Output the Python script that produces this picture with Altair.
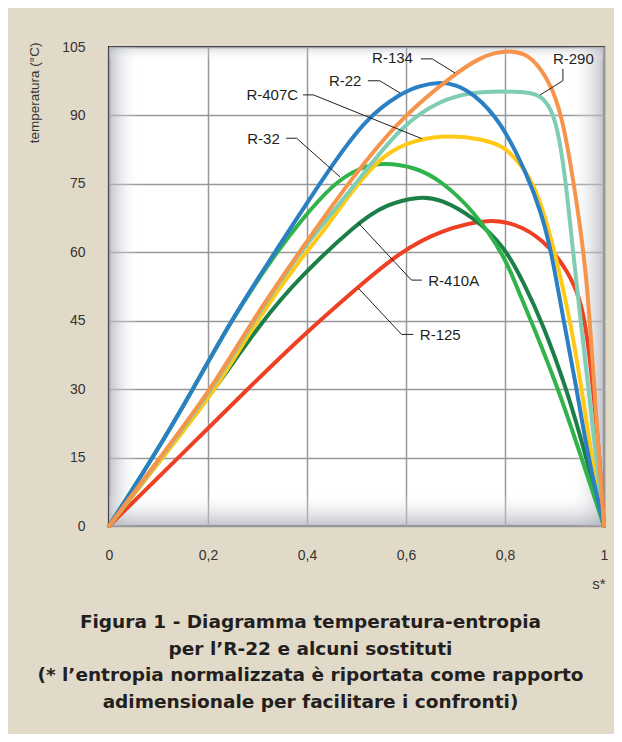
import altair as alt
import pandas as pd

# ---------------- data ----------------
R22_x = [0, 0.089, 0.17, 0.246, 0.335, 0.386, 0.453, 0.52, 0.588, 0.63, 0.669, 0.70, 0.736, 0.79, 0.844, 0.874, 0.894, 0.918, 0.945, 0.968, 1.0]
R22_y = [0, 15, 30, 45, 60, 68.5, 79.5, 89.4, 94.8, 96.6, 97.3, 96.8, 94.8, 89, 77.3, 68.5, 60, 45.2, 30, 14.8, 0]

R134_x = [0, 0.103, 0.207, 0.289, 0.384, 0.487, 0.588, 0.699, 0.749, 0.78, 0.81, 0.84, 0.867, 0.898, 0.918, 0.938, 0.952, 0.965, 0.971, 0.981, 0.99, 1.0]
R134_y = [0, 15, 30, 45, 60, 75.8, 89.4, 99.2, 102.6, 103.8, 104.2, 103.6, 101.2, 95.6, 88.3, 75.8, 65.6, 53.9, 45, 30, 15, 0]

R290_x = [0, 0.104, 0.21, 0.291, 0.386, 0.42, 0.494, 0.588, 0.669, 0.736, 0.79, 0.851, 0.874, 0.892, 0.906, 0.921, 0.935, 0.946, 0.958, 0.972, 0.986, 1.0]
R290_y = [0, 15, 30, 45, 60, 64.5, 74.4, 87.6, 93.4, 95.1, 95.3, 95.1, 94.2, 91.6, 87.3, 77.3, 62.7, 51.7, 40, 27, 13.5, 0]

R407C_x = [0, 0.108, 0.2175, 0.297, 0.396, 0.426, 0.487, 0.554, 0.621, 0.689, 0.756, 0.8, 0.83, 0.858, 0.882, 0.904, 0.932, 0.955, 0.975, 1.0]
R407C_y = [0, 15, 30, 45, 59.9, 63.5, 72.9, 81.7, 84.8, 85.7, 84.8, 83.1, 79.5, 75, 67.5, 58.5, 45, 30, 14.8, 0]

R32_x = [0, 0.089, 0.17, 0.246, 0.335, 0.386, 0.453, 0.507, 0.554, 0.621, 0.669, 0.736, 0.8, 0.823, 0.853, 0.908, 0.955, 1.0]
R32_y = [0, 15, 30, 45, 59.5, 66.7, 75.1, 78.6, 79.7, 78.6, 75.8, 69.3, 59, 52.5, 45, 30, 14.8, 0]

R410A_x = [0, 0.108, 0.214, 0.308, 0.386, 0.5, 0.56, 0.63, 0.669, 0.736, 0.8, 0.838, 0.874, 0.925, 0.965, 1.0]
R410A_y = [0, 15, 30, 44.8, 54.6, 66.3, 70.6, 72.3, 71.7, 67.8, 61.2, 53.2, 45, 30, 14.8, 0]

R125_x = [0, 0.14, 0.28, 0.386, 0.5, 0.588, 0.669, 0.77, 0.838, 0.891, 0.925, 0.952, 0.966, 0.98, 0.991, 1.0]
R125_y = [0, 15, 30, 41.2, 52.1, 60.1, 64.8, 67.6, 65.7, 61.2, 56.1, 50, 42, 28, 15, 0]

# drawing order (bottom -> top)
series_names = ["R-125", "R-410A", "R-32", "R-407C", "R-290", "R-22", "R-134"]
series_colors = ["#ee4124", "#1b7f47", "#2fb34a", "#ffc916", "#7fcdb3", "#2b7fc3", "#f7944b"]
series_xy = {
    "R-125": (R125_x, R125_y),
    "R-410A": (R410A_x, R410A_y),
    "R-32": (R32_x, R32_y),
    "R-407C": (R407C_x, R407C_y),
    "R-290": (R290_x, R290_y),
    "R-22": (R22_x, R22_y),
    "R-134": (R134_x, R134_y),
}

x_ticks = [0, 0.2, 0.4, 0.6, 0.8, 1.0]
y_ticks = [0, 15, 30, 45, 60, 75, 90, 105]

# label annotations (data coordinates)
label_names = ["R-134", "R-22", "R-407C", "R-32", "R-290", "R-410A", "R-125"]
label_x = [0.614, 0.510, 0.382, 0.345, 0.938, 0.645, 0.628]
label_y = [102.6, 97.5, 94.5, 84.8, 102.3, 53.7, 41.8]
label_align = ["right", "right", "right", "right", "center", "left", "left"]
leader_x = [
    [0.630, 0.653, 0.699],
    [0.523, 0.547, 0.588],
    [0.392, 0.413, 0.632],
    [0.358, 0.379, 0.467],
    [0.917, 0.917, 0.871],
    [0.632, 0.611, 0.504],
    [0.615, 0.591, 0.504],
]
leader_y = [
    [102.4, 102.4, 99.3],
    [97.6, 97.6, 94.9],
    [94.5, 94.5, 84.9],
    [85.0, 85.0, 76.5],
    [100.2, 97.6, 94.5],
    [53.9, 53.9, 66.4],
    [42.0, 42.0, 52.1],
]

caption_lines = [
    "Figura 1 - Diagramma temperatura-entropia",
    "per l’R-22 e alcuni sostituti",
    "(* l’entropia normalizzata è riportata come rapporto",
    "adimensionale per facilitare i confronti)",
]

# ---------------- chart ----------------
W, H = 495, 479
FONT = "Liberation Sans"

xscale = alt.Scale(domain=[0, 1], nice=False, zero=False)
yscale = alt.Scale(domain=[0, 105], nice=False, zero=False)

xaxis = alt.Axis(
    values=x_ticks,
    labelExpr="datum.value == 0 ? '0' : (datum.value == 1 ? '1' : replace(format(datum.value, '.1f'), '.', ','))",
    title="s*", titleX=496, titleY=57, titleAlign="right", titleBaseline="middle",
    titleFont=FONT, titleFontSize=15, titleFontWeight="normal", titleColor="#333333",
    labelFont=FONT, labelFontSize=14, labelColor="#333333", labelPadding=22,
    labelFlush=False, ticks=False, tickSize=0, domain=False,
    grid=True, gridColor="#989898", gridWidth=1.5,
)
yaxis = alt.Axis(
    values=y_ticks,
    title="temperatura (°C)", titleX=-75, titleY=-5, titleAlign="right", titleAngle=270,
    titleBaseline="middle",
    titleFont=FONT, titleFontSize=13.5, titleFontWeight="normal", titleColor="#333333",
    labelFont=FONT, labelFontSize=14, labelColor="#333333", labelPadding=24,
    ticks=False, tickSize=0, domain=False,
    grid=True, gridColor="#989898", gridWidth=1.5,
)

one = alt.Data(values=[{"a": 1}])


def vignette(x1, x2, y1, y2, gx1, gx2, gy1, gy2, c0):
    grad = alt.Gradient(
        gradient="linear", x1=gx1, x2=gx2, y1=gy1, y2=gy2,
        stops=[alt.GradientStop(offset=0, color=c0),
               alt.GradientStop(offset=1, color="rgba(255,255,255,0)")],
    )
    return alt.Chart(one).mark_rect(fill=grad).encode(
        x=alt.value(x1), x2=alt.value(x2), y=alt.value(y1), y2=alt.value(y2)
    )


shade = "rgba(170,174,182,0.75)"
vig_left = vignette(0, 30, 0, H, 0, 1, 0, 0, shade)
vig_right = vignette(W - 34, W, 0, H, 1, 0, 0, 0, shade)
vig_bottom = vignette(0, W, H - 34, H, 0, 0, 1, 0, shade)
vig_top = vignette(0, W, 0, 14, 0, 0, 0, 1, "rgba(170,174,182,0.45)")

base = alt.Chart(one).mark_point(opacity=0).encode(
    x=alt.X("a:Q", scale=xscale, axis=xaxis),
    y=alt.Y("a:Q", scale=yscale, axis=yaxis),
)

line_layers = []
for name, col in zip(series_names, series_colors):
    xs, ys = series_xy[name]
    df = pd.DataFrame({"s": xs, "t": ys, "serie": name})
    line_layers.append(
        alt.Chart(df).mark_line(color=col, strokeWidth=4, interpolate="basis",
                                strokeCap="round").encode(
            x=alt.X("s:Q", scale=xscale),
            y=alt.Y("t:Q", scale=yscale),
        )
    )

rows = []
for nm, lx, ly in zip(label_names, leader_x, leader_y):
    for i, (a, b) in enumerate(zip(lx, ly)):
        rows.append({"label": nm, "k": i, "s": a, "t": b})
leaders = alt.Chart(pd.DataFrame(rows)).mark_line(color="#231f20", strokeWidth=1).encode(
    x=alt.X("s:Q", scale=xscale),
    y=alt.Y("t:Q", scale=yscale),
    detail="label:N",
    order="k:O",
)

text_layers = []
for al in ["right", "center", "left"]:
    sub = [(n, x, y) for n, x, y, a in zip(label_names, label_x, label_y, label_align) if a == al]
    df = pd.DataFrame(sub, columns=["label", "s", "t"])
    text_layers.append(
        alt.Chart(df).mark_text(align=al, baseline="middle", font=FONT, fontSize=15,
                                color="#231f20").encode(
            x=alt.X("s:Q", scale=xscale),
            y=alt.Y("t:Q", scale=yscale),
            text="label:N",
        )
    )

chart = alt.layer(
    base, vig_left, vig_right, vig_bottom, vig_top, *line_layers, leaders, *text_layers
).properties(
    width=W, height=H,
    padding={"left": 101, "top": 39, "right": 10, "bottom": 208},
    autosize=alt.AutoSizeParams(type="none"),
    background="#e2dac8",
    title=alt.TitleParams(
        text=caption_lines, orient="bottom", anchor="middle", frame="group",
        font="DejaVu Sans", fontSize=18.5, fontWeight="bold", color="#231f20",
        lineHeight=26.7, offset=22, dx=-46,
    ),
).configure_view(
    fill="#ffffff", stroke="#2e2e2e", strokeWidth=2.2
)

chart.save("out.html", embed_options={"renderer": "svg", "actions": False})
